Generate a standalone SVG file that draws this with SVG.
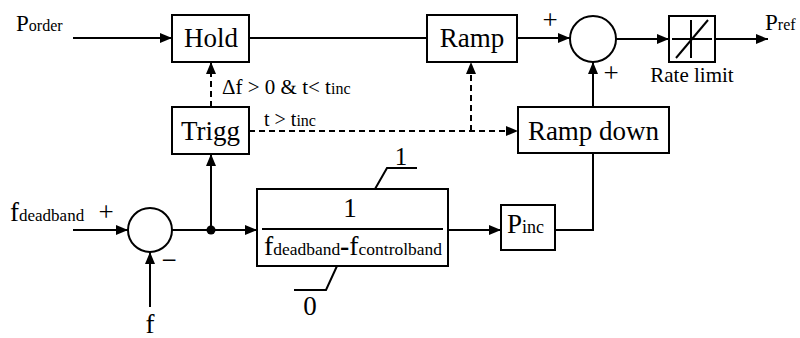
<svg xmlns="http://www.w3.org/2000/svg" width="800" height="338" viewBox="0 0 800 338" font-family="Liberation Serif, serif">
<style>
.box{fill:#fff;stroke:#000;stroke-width:2}
.ln{fill:none;stroke:#000;stroke-width:2}
.dash{fill:none;stroke:#000;stroke-width:2;stroke-dasharray:6 4}
.lbl{font-size:27px;text-anchor:middle}
.sub{font-size:16px}
</style>
<defs>
<marker id="ah" markerUnits="userSpaceOnUse" markerWidth="13" markerHeight="11" refX="12" refY="5" orient="auto">
<path d="M0,0 L12,5 L0,10 z" fill="#000"/>
</marker>
</defs>
<rect width="800" height="338" fill="#fff"/>

<g id="connectors">
<line class="ln" x1="73" y1="38" x2="172" y2="38" marker-end="url(#ah)"/>
<line class="ln" x1="249" y1="38" x2="427" y2="38"/>
<line class="ln" x1="517" y1="38" x2="570" y2="38" marker-end="url(#ah)"/>
<line class="ln" x1="616" y1="39" x2="669" y2="39" marker-end="url(#ah)"/>
<line class="ln" x1="715" y1="39" x2="768" y2="39" marker-end="url(#ah)"/>
<line class="ln" x1="593" y1="107" x2="593" y2="62" marker-end="url(#ah)"/>
<polyline class="ln" points="555,230 593,230 593,153"/>
<line class="ln" x1="448" y1="230" x2="501" y2="230" marker-end="url(#ah)"/>
<line class="ln" x1="73" y1="230" x2="128" y2="230" marker-end="url(#ah)"/>
<line class="ln" x1="150" y1="307" x2="150" y2="252" marker-end="url(#ah)"/>
<line class="ln" x1="172" y1="230" x2="257" y2="230" marker-end="url(#ah)"/>
<line class="ln" x1="211" y1="230" x2="211" y2="154" marker-end="url(#ah)"/>
<circle cx="211" cy="230" r="4.5" fill="#000"/>
<line class="dash" x1="211" y1="107" x2="211" y2="62" marker-end="url(#ah)"/>
<line class="dash" x1="249" y1="131" x2="518" y2="131" marker-end="url(#ah)"/>
<line class="dash" x1="471" y1="131" x2="471" y2="62" marker-end="url(#ah)"/>
</g>

<g id="porder"><text x="16" y="31" font-size="23px">P<tspan class="sub">order</tspan></text></g>

<g id="hold">
<rect class="box" x="172" y="15" width="77" height="47"/>
<text class="lbl" x="211" y="47">Hold</text>
</g>

<g id="ramp">
<rect class="box" x="427" y="15" width="90" height="47"/>
<text class="lbl" x="472" y="47">Ramp</text>
</g>

<g id="sum1">
<circle class="ln" cx="593" cy="39" r="23"/>
<text x="550" y="29" font-size="27px" text-anchor="middle">+</text>
<text x="611" y="82" font-size="27px" text-anchor="middle">+</text>
</g>

<g id="ratelimit">
<rect class="box" x="669" y="16" width="46" height="46"/>
<line class="ln" x1="672" y1="39" x2="712" y2="39"/>
<line class="ln" x1="691" y1="20" x2="691" y2="58"/>
<line class="ln" x1="676" y1="58" x2="708" y2="20"/>
<text x="692" y="82" font-size="21px" text-anchor="middle">Rate limit</text>
</g>

<g id="pref"><text x="765" y="30" font-size="23px">P<tspan class="sub">ref</tspan></text></g>

<g id="trigg">
<rect class="box" x="172" y="107" width="77" height="47"/>
<text class="lbl" x="210.5" y="140">Trigg</text>
<text x="222" y="94" font-size="21px">Δf &gt; 0 &amp; t&lt; t<tspan font-size="16px">inc</tspan></text>
<text x="264" y="126" font-size="20px">t &gt; t<tspan font-size="16px">inc</tspan></text>
</g>

<g id="rampdown">
<rect class="box" x="518" y="107" width="151" height="46"/>
<text class="lbl" x="593.5" y="140">Ramp down</text>
</g>

<g id="fdeadband">
<text x="10" y="221" font-size="27px">f<tspan font-size="17px">deadband</tspan></text>
<text x="106" y="221" font-size="27px" text-anchor="middle">+</text>
</g>

<g id="sum2">
<circle class="ln" cx="150" cy="230" r="22"/>
<text x="169" y="269" font-size="27px" text-anchor="middle">−</text>
</g>

<g id="f"><text x="150" y="333" font-size="27px" text-anchor="middle">f</text></g>

<g id="gain">
<rect class="box" x="257" y="189" width="191" height="77"/>
<line class="ln" x1="262" y1="229" x2="443" y2="229"/>
<text class="lbl" x="350" y="217">1</text>
<text x="264" y="255" font-size="27px" textLength="178" lengthAdjust="spacingAndGlyphs">f<tspan font-size="17px">deadband</tspan><tspan font-weight="bold">-</tspan>f<tspan font-size="17px">controlband</tspan></text>
<polyline class="ln" points="375,189 387,168 417,168"/>
<text x="401" y="165" font-size="25px" text-anchor="middle">1</text>
<polyline class="ln" points="337,266 326,290 294,290"/>
<text x="310" y="315" font-size="27px" text-anchor="middle">0</text>
</g>

<g id="pinc">
<rect class="box" x="501" y="205" width="54" height="45"/>
<text x="507" y="233" font-size="27px">P<tspan font-size="18px">inc</tspan></text>
</g>
</svg>
